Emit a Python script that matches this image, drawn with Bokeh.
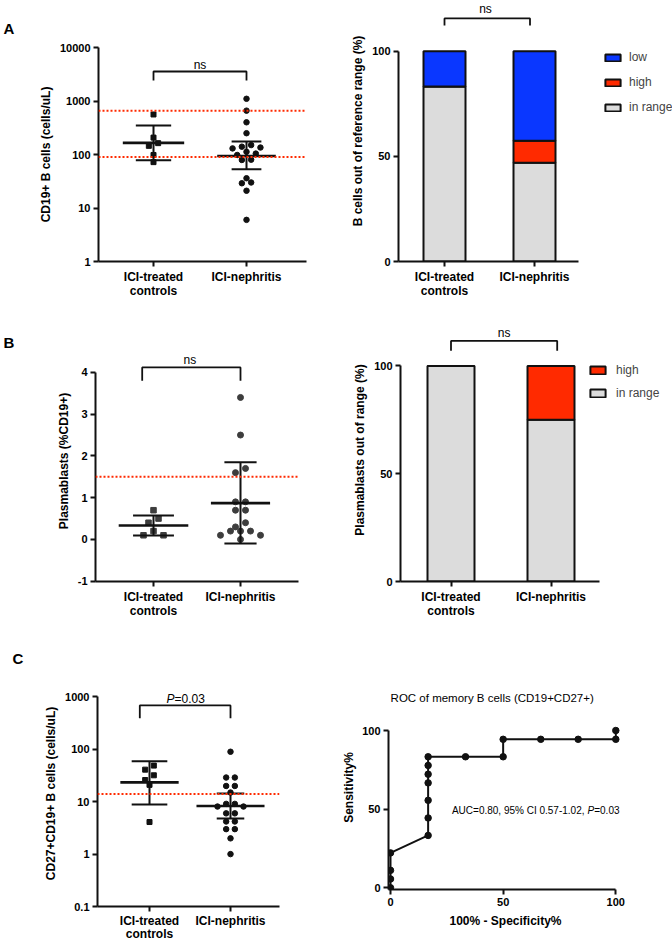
import math
from bokeh.plotting import figure
from bokeh.layouts import row, column
from bokeh.models import (Range1d, FixedTicker, CustomJSTickFormatter, Label, Legend,
                          LegendItem, ColumnDataSource, Span)
from bokeh.embed import file_html
from bokeh.resources import INLINE

FONT = "Liberation Sans"
RED = "#ff2a00"
BLUE = "#0a37ff"
GRAY = "#dcdcdc"
INK = "#111111"
DOT_B = "#3d3d3d"

# ---------------- data ----------------
groups = ["ICI-treated\ncontrols", "ICI-nephritis"]

# A: CD19+ B cells (cells/uL)
cd19_controls = [560, 207, 163, 145, 98, 72]
cd19_nephritis = [1100, 660, 400, 250, 150, 140, 135, 130, 112, 104, 98, 80, 79, 36, 30, 29, 21, 6]
cd19_center = [165, 94]
cd19_lower = [78, 53]
cd19_upper = [349, 175]
cd19_reference = [90, 660]
cd19_ticks = [1, 10, 100, 1000, 10000]

# A: B cells out of reference range (%)
bcell_in_range = [83.3, 47.0]
bcell_high = [0.0, 10.5]
bcell_low = [16.7, 42.5]

# B: Plasmablasts (%CD19+)
pb_controls = [0.7, 0.5, 0.4, 0.2, 0.1, 0.1]
pb_nephritis = [3.4, 2.5, 1.7, 1.6, 0.9, 0.9, 0.7, 0.7, 0.4, 0.3, 0.2, 0.2, 0.2, 0.1, 0.1, 0.0]
pb_center = [0.335, 0.87]
pb_lower = [0.095, -0.10]
pb_upper = [0.575, 1.85]
pb_reference = 1.5
pb_ticks = [-1, 0, 1, 2, 3, 4]

# B: Plasmablasts out of range (%)
pbr_in_range = [100.0, 75.0]
pbr_high = [0.0, 25.0]

# C: CD27+CD19+ B cells (cells/uL)
mem_controls = [49, 41, 32, 26, 21, 4.1]
mem_nephritis = [90, 29, 29, 20, 20, 15, 9.1, 9.1, 8.1, 8.1, 6.0, 6.0, 4.2, 4.2, 3.0, 3.0, 2.0, 1.0]
mem_center = [23.4, 8.3]
mem_lower = [8.9, 4.8]
mem_upper = [59, 14.3]
mem_reference = 14
mem_ticks = [0.1, 1, 10, 100, 1000]

# C: ROC of memory B cells
roc_fpr = [0, 0, 0, 0, 16.7, 16.7, 16.7, 16.7, 16.7, 16.7, 16.7, 33.3, 50, 50, 66.7, 83.3, 100, 100]
roc_tpr = [0, 5.6, 11.1, 22.2, 33.3, 44.4, 55.6, 66.7, 72.2, 77.8, 83.3, 83.3, 83.3, 94.4, 94.4, 94.4, 94.4, 100]
pct_ticks = [0, 50, 100]


# ---------------- helpers ----------------
def pmap(px, v1, p1, v2, p2, log=False):
    a1, a2 = (math.log10(v1), math.log10(v2)) if log else (v1, v2)
    a = a1 + (px - p1) * (a2 - a1) / (p2 - p1)
    return 10 ** a if log else a


def new_fig(fx, fy, fw, fh, frame, xr, yr, log=False):
    l, t, r, b = frame
    p = figure(width=fw, height=fh, x_range=Range1d(*xr), y_range=Range1d(*yr),
               y_axis_type="log" if log else "linear",
               output_backend="svg", toolbar_location=None,
               min_border_left=l - fx, min_border_right=fx + fw - r,
               min_border_top=t - fy, min_border_bottom=fy + fh - b)
    p.outline_line_color = None
    p.xgrid.visible = False
    p.ygrid.visible = False
    p.background_fill_color = "white"
    p.border_fill_color = "white"
    for ax in p.axis:
        ax.axis_line_width = 2
        ax.axis_line_color = INK
        ax.major_tick_line_width = 2
        ax.major_tick_line_color = INK
        ax.major_tick_out = 5
        ax.major_tick_in = 0
        ax.minor_tick_line_color = None
        ax.major_label_standoff = 3
        ax.major_label_text_font = FONT
        ax.major_label_text_font_style = "bold"
        ax.major_label_text_font_size = "11px"
        ax.major_label_text_color = "black"
        ax.axis_label_text_font = FONT
        ax.axis_label_text_font_style = "bold"
        ax.axis_label_text_font_size = "12px"
        ax.axis_label_text_color = "black"
        ax.axis_label_standoff = 4
    return p


def letter_fig(fy, fh, text, px, py):
    p = figure(width=24, height=fh, x_range=Range1d(0, 24), y_range=Range1d(fy + fh, fy),
               x_axis_location=None, y_axis_location=None,
               output_backend="svg", toolbar_location=None,
               min_border_left=0, min_border_right=0, min_border_top=0, min_border_bottom=0)
    p.outline_line_color = None
    p.grid.visible = False
    p.add_layout(Label(x=px, y=py, text=text, text_font=FONT, text_font_size="15px",
                       text_font_style="bold", text_align="left", text_baseline="alphabetic",
                       text_color="black"))
    return p


def cat_xaxis(p, bounds=None, standoff=3, line_height=1.0):
    p.xaxis.ticker = FixedTicker(ticks=[1, 2])
    p.xaxis.major_label_overrides = {1: groups[0], 2: groups[1]}
    p.xaxis.major_label_text_font_size = "12px"
    p.xaxis.major_label_text_line_height = line_height
    p.xaxis.major_label_standoff = standoff
    if bounds is not None:
        p.xaxis.bounds = bounds


def set_y(p, ticks, label, bounds=None):
    p.yaxis.ticker = FixedTicker(ticks=ticks, minor_ticks=[])
    p.yaxis.formatter = CustomJSTickFormatter(code="return tick.toString();")
    p.yaxis.axis_label = label
    if bounds is not None:
        p.yaxis.bounds = bounds


def swarm(vals, log, ppu, thr, step):
    t = [math.log10(v) if log else v for v in vals]
    order = sorted(range(len(vals)), key=lambda i: -t[i])
    rows = []
    for i in order:
        if rows and (t[rows[-1][0]] - t[i]) * ppu < thr:
            rows[-1].append(i)
        else:
            rows.append([i])
    off = [0.0] * len(vals)
    for rw in rows:
        n = len(rw)
        slots = sorted([(k - (n - 1) / 2) for k in range(n)], key=lambda s: (abs(s), -s))
        for s, i in zip(slots, rw):
            off[i] = s * step
    return off


def dots(p, xc, vals, marker, size, color, log, ppu, thr, step):
    off = swarm(vals, log, ppu, thr, step)
    p.scatter([xc + o for o in off], vals, marker=marker, size=size,
              fill_color=color, line_color=color)


def err(p, center, lower, upper, hw_c, hw_e):
    xs = [1, 2]
    p.segment([x - h for x, h in zip(xs, hw_e)], upper, [x + h for x, h in zip(xs, hw_e)], upper,
              line_width=2, color=INK)
    p.segment([x - h for x, h in zip(xs, hw_e)], lower, [x + h for x, h in zip(xs, hw_e)], lower,
              line_width=2, color=INK)
    p.segment(xs, lower, xs, upper, line_width=2, color=INK)
    p.segment([x - h for x, h in zip(xs, hw_c)], center, [x + h for x, h in zip(xs, hw_c)], center,
              line_width=2.6, color=INK)


def bracket(p, x1, x2, ytop, ybot):
    p.line([x1, x1, x2, x2], [ybot, ytop, ytop, ybot], line_width=1.8, color=INK)


def lab(p, x, y, text, size, style="normal", align="center", x_offset=0):
    p.add_layout(Label(x=x, y=y, text=text, text_font=FONT, text_font_size=f"{size}px",
                       text_font_style=style, text_align=align, text_baseline="alphabetic",
                       text_color="black", x_offset=x_offset))


def ref_line(p, v):
    p.add_layout(Span(location=v, dimension="width", line_color=RED, line_dash="2 2",
                      line_width=2))


# ---------------- A left ----------------
XA = lambda px: pmap(px, 1, 153, 2, 246)
YA = lambda py: pmap(py, 1, 261, 10000, 47, log=True)
pA = new_fig(24, 0, 312, 300, (98, 47, 306, 261), (XA(98), XA(306)), (YA(261), YA(47)), log=True)
cat_xaxis(pA)
set_y(pA, cd19_ticks, "CD19+ B cells (cells/uL)")
for v in cd19_reference:
    ref_line(pA, v)
dots(pA, 1, cd19_controls, "square", 5, INK, True, 53.5, 4, 0.1)
dots(pA, 2, cd19_nephritis, "circle", 5.5, INK, True, 53.5, 4, 0.1)
err(pA, cd19_center, cd19_lower, cd19_upper, [0.33, 0.315], [0.19, 0.16])
bracket(pA, 1, 2, YA(71), YA(80))
lab(pA, XA(199.5), YA(64), "ns", 12)

# ---------------- A right ----------------
XA2 = lambda px: pmap(px, 1, 444, 2, 534)
YA2 = lambda py: pmap(py, 0, 262, 100, 51)
pA2 = new_fig(336, 0, 336, 300, (398, 0, 672, 262), (XA2(398), XA2(672)), (YA2(262), YA2(0)))
cat_xaxis(pA2, bounds=(XA2(398), XA2(578)))
set_y(pA2, pct_ticks, "B cells out of reference range (%)", bounds=(0, 100))
srcA = ColumnDataSource(dict(x=[1, 2], in_range=bcell_in_range, high=bcell_high, low=bcell_low))
rA = pA2.vbar_stack(["in_range", "high", "low"], x="x", width=42 / 90, source=srcA,
                    fill_color=[GRAY, RED, BLUE], line_color=INK, line_width=2)
legA = Legend(items=[LegendItem(label="low", renderers=[rA[2]]),
                     LegendItem(label="high", renderers=[rA[1]]),
                     LegendItem(label="in range", renderers=[rA[0]])],
              location=(603 - 398, 262 - 118), border_line_color=None, background_fill_alpha=0,
              label_text_font=FONT, label_text_font_size="12px", glyph_width=19, glyph_height=9,
              label_standoff=7, spacing=5, padding=0, margin=0, label_height=20)
pA2.add_layout(legA)
bracket(pA2, 1.0, 1.95, YA2(18), YA2(25))
lab(pA2, XA2(485), YA2(9), "ns", 12)

# ---------------- B left ----------------
XB = lambda px: pmap(px, 1, 153, 2, 240)
YB = lambda py: pmap(py, -1, 583.7, 4, 372.3)
pB = new_fig(24, 300, 312, 320, (95, 340, 298, 584), (XB(95), XB(298)), (YB(584), YB(340)))
cat_xaxis(pB)
set_y(pB, pb_ticks, "Plasmablasts (%CD19+)", bounds=(-1, 4))
ref_line(pB, pb_reference)
dots(pB, 1, pb_controls, "square", 5.5, DOT_B, False, 42.3, 4.5, 0.115)
dots(pB, 2, pb_nephritis, "circle", 6, DOT_B, False, 42.3, 4.5, 0.115)
err(pB, pb_center, pb_lower, pb_upper, [0.40, 0.34], [0.235, 0.185])
bracket(pB, XB(141.7), 2.0, YB(367.3), YB(380.7))
lab(pB, XB(189.3), YB(359.5), "ns", 12)

# ---------------- B right ----------------
XB2 = lambda px: pmap(px, 1, 450.5, 2, 550.5)
YB2 = lambda py: pmap(py, 0, 584, 100, 366)
pB2 = new_fig(336, 300, 336, 320, (400, 318, 672, 584), (XB2(400), XB2(672)), (YB2(584), YB2(318)))
cat_xaxis(pB2, bounds=(XB2(400), XB2(599)))
set_y(pB2, pct_ticks, "Plasmablasts out of range (%)", bounds=(0, 100))
srcB = ColumnDataSource(dict(x=[1, 2], in_range=pbr_in_range, high=pbr_high))
rB = pB2.vbar_stack(["in_range", "high"], x="x", width=0.47, source=srcB,
                    fill_color=[GRAY, RED], line_color=INK, line_width=2)
legB = Legend(items=[LegendItem(label="high", renderers=[rB[1]]),
                     LegendItem(label="in range", renderers=[rB[0]])],
              location=(588 - 400, 584 - 406), border_line_color=None, background_fill_alpha=0,
              label_text_font=FONT, label_text_font_size="12px", glyph_width=19, glyph_height=10,
              label_standoff=9, spacing=3, padding=0, margin=0, label_height=20)
pB2.add_layout(legB)
bracket(pB2, 1.0, XB2(556.7), YB2(340.7), YB2(350.7))
lab(pB2, XB2(503.7), YB2(332.5), "ns", 12)

# ---------------- C left ----------------
XC = lambda px: pmap(px, 1, 149, 2, 230)
YC = lambda py: pmap(py, 0.1, 913, 1000, 697, log=True)
pC = new_fig(24, 620, 312, 323, (97, 680, 279, 913), (XC(97), XC(279)), (YC(913), YC(680)), log=True)
cat_xaxis(pC, standoff=2, line_height=0.95)
set_y(pC, mem_ticks, "CD27+CD19+ B cells (cells/uL)", bounds=(0.1, 1000))
ref_line(pC, mem_reference)
dots(pC, 1, mem_controls, "square", 5, INK, True, 54, 5, 0.107)
dots(pC, 2, mem_nephritis, "circle", 5.5, INK, True, 54, 4, 0.107)
err(pC, mem_center, mem_lower, mem_upper, [0.36, 0.42], [0.22, 0.17])
bracket(pC, XC(139.3), 2.0, YC(705.7), YC(719))
lab(pC, XC(174), YC(699.5), "P", 12, "italic", "right")
lab(pC, XC(174), YC(699.5), "=0.03", 12, "normal", "left")

# ---------------- C right (ROC) ----------------
XR = lambda px: pmap(px, 0, 390, 100, 615.3)
YR = lambda py: pmap(py, 0, 887.3, 100, 730)
pR = new_fig(336, 620, 336, 323, (388, 685, 622, 889), (XR(388), XR(622)), (YR(889), YR(685)))
pR.xaxis.bounds = (XR(388), 100)
pR.xaxis.ticker = FixedTicker(ticks=pct_ticks, minor_ticks=[])
pR.xaxis.axis_label = "100% - Specificity%"
pR.xaxis.axis_label_standoff = 5
set_y(pR, pct_ticks, "Sensitivity%", bounds=(YR(889), 100))
pR.yaxis.axis_label_standoff = 3
pR.line(roc_fpr, roc_tpr, line_width=2, color=INK)
pR.scatter(roc_fpr, roc_tpr, size=6.5, color=INK)
lab(pR, XR(491.7), YR(697), "ROC of memory B cells (CD19+CD27+)", 11.5)
lab(pR, XR(587), YR(809.5), "AUC=0.80, 95% CI 0.57-1.02,", 10, "normal", "right", x_offset=-3)
lab(pR, XR(587), YR(809.5), "P", 10, "italic", "left")
lab(pR, XR(587), YR(809.5), "=0.03", 10, "normal", "left", x_offset=6.7)

# ---------------- letters ----------------
lA = letter_fig(0, 300, "A", 3, 28)
lB = letter_fig(300, 320, "B", 3, 342)
lC = letter_fig(620, 323, "C", 12, 658)

layout = column(
    row(column(lA), column(pA), column(pA2)),
    row(column(lB), column(pB), column(pB2)),
    row(column(lC), column(pC), column(pR)),
)
open("out.html", "w").write(file_html(layout, INLINE))
